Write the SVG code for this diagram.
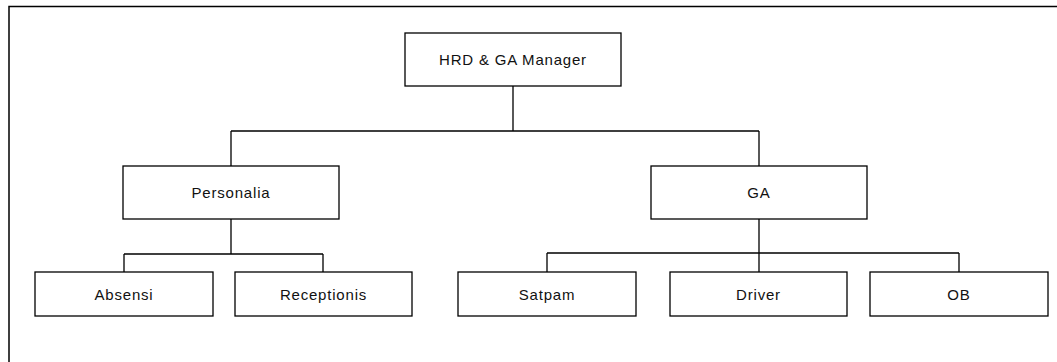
<svg xmlns="http://www.w3.org/2000/svg" width="1057" height="362" viewBox="0 0 1057 362">
<style>
.box{fill:#fff;stroke:#000;stroke-width:1.3}
.lbl{font-family:"Liberation Sans",Arial,sans-serif;font-size:15px;letter-spacing:0.8px;fill:#111;text-anchor:middle}
.con{fill:none;stroke:#000;stroke-width:1.3}
.frame{fill:none;stroke:#000;stroke-width:1.5}
</style>
<rect width="1057" height="362" fill="#fff"/>
<path class="frame" d="M9,362 V6.5 H1057"/>
<g id="connectors">
<path class="con" d="M513,86 V131 M231,131 H759 M231,131 V166 M759,131 V166"/>
<path class="con" d="M231,219 V254 M124,254 H323 M124,254 V272 M323,254 V272"/>
<path class="con" d="M759,219 V272 M547,253 H959 M547,253 V272 M959,253 V272"/>
</g>
<g id="hrd"><rect class="box" x="405" y="33" width="216" height="53"/><text class="lbl" x="513" y="65">HRD &amp; GA Manager</text></g>
<g id="personalia"><rect class="box" x="123" y="166" width="216" height="53"/><text class="lbl" x="231" y="198">Personalia</text></g>
<g id="ga"><rect class="box" x="651" y="166" width="216" height="53"/><text class="lbl" x="759" y="198">GA</text></g>
<g id="absensi"><rect class="box" x="35" y="272" width="178" height="44"/><text class="lbl" x="124" y="299.5">Absensi</text></g>
<g id="receptionis"><rect class="box" x="235" y="272" width="177" height="44"/><text class="lbl" x="323.5" y="299.5">Receptionis</text></g>
<g id="satpam"><rect class="box" x="458" y="272" width="178" height="44"/><text class="lbl" x="547" y="299.5">Satpam</text></g>
<g id="driver"><rect class="box" x="670" y="272" width="177" height="44"/><text class="lbl" x="758.5" y="299.5">Driver</text></g>
<g id="ob"><rect class="box" x="870" y="272" width="178" height="44"/><text class="lbl" x="959" y="299.5">OB</text></g>
</svg>
